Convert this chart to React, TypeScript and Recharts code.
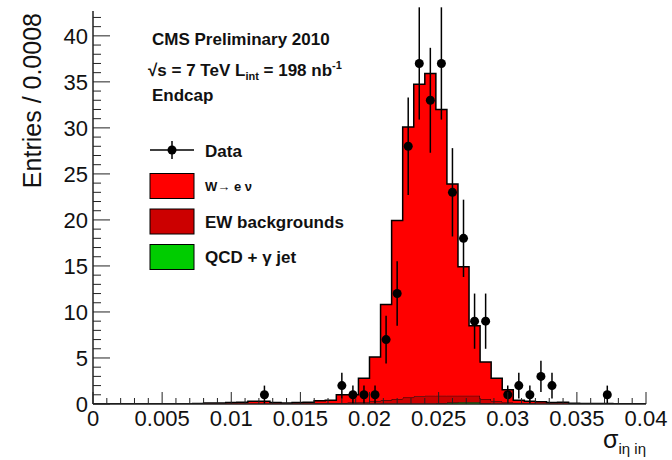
import React from "react";
import { ComposedChart, Area, Scatter, ErrorBar, XAxis, YAxis, Legend } from "recharts";

const FONT = "'Liberation Sans', Arial, Helvetica, sans-serif";
const BIN_WIDTH = 0.0008;

// stacked MC histograms, 50 bins of 0.0008 from 0 to 0.04
const wEnu = [
  0, 0, 0, 0, 0, 0, 0, 0, 0, 0.05,
  0.1, 0.1, 0.15, 0.2, 0.3, 0.3, 0.15, 0.1, 0.15, 0.2,
  0.3, 0.32, 0.9, 0.85, 2.6, 4.8, 10.4, 19.4, 29.4, 33.9,
  35.0, 31.1, 23.0, 14.0, 7.6, 4.0, 2.5, 1.4, 0.3, 0.25,
  0.25, 0.15, 0.2, 0.08, 0.06, 0.05, 0.05, 0.04, 0.03, 0.03,
];
const ewBackgrounds = [
  0, 0, 0, 0, 0, 0, 0, 0, 0, 0,
  0, 0, 0, 0, 0, 0, 0, 0, 0, 0,
  0.05, 0.08, 0.1, 0.15, 0.2, 0.3, 0.4, 0.55, 0.7, 0.85,
  0.9, 0.85, 0.75, 0.7, 0.7, 0.5, 0.3, 0.15, 0.1, 0.05,
  0, 0, 0, 0, 0, 0, 0, 0, 0, 0,
];
const qcdGammaJet = [
  0, 0, 0, 0, 0, 0, 0, 0, 0, 0,
  0, 0, 0, 0, 0, 0, 0, 0, 0, 0,
  0, 0, 0, 0, 0, 0, 0, 0, 0, 0,
  0, 0.05, 0.15, 0.2, 0.2, 0.05, 0, 0, 0, 0,
  0, 0, 0, 0, 0, 0, 0, 0, 0, 0,
];

// data points (bin centres), counts and error bars
const dataX = [
  0.0124, 0.018, 0.0188, 0.0196, 0.0204, 0.0212, 0.022, 0.0228, 0.0236, 0.0244,
  0.0252, 0.026, 0.0268, 0.0276, 0.0284, 0.03, 0.0308, 0.0316, 0.0324, 0.0332, 0.0372,
];
const dataCounts = [1, 2, 1, 1, 1, 7, 12, 28, 37, 33, 37, 23, 18, 9, 9, 1, 2, 1, 3, 2, 1];
const dataErrors = [1, 1.4, 1, 1, 1, 2.6, 3.5, 5.3, 6.1, 5.7, 6.1, 4.8, 4.2, 3, 3, 1, 1.4, 1, 1.7, 1.4, 1];

const xMajorTicks = [0, 0.005, 0.01, 0.015, 0.02, 0.025, 0.03, 0.035, 0.04];
const xTickLabels = ["0", "0.005", "0.01", "0.015", "0.02", "0.025", "0.03", "0.035", "0.04"];
const yMajorTicks = [0, 5, 10, 15, 20, 25, 30, 35, 40];

const xTicks = Array.from({ length: 41 }, (_, i) => i / 1000);
const yTicks = Array.from({ length: 43 }, (_, i) => i);

const W_COLOR = "#ff0000";
const EW_COLOR = "#cc0000";
const QCD_COLOR = "#00cc00";
const LINE = "#222";

const histRows = wEnu.map((w, i) => ({
  x: i * BIN_WIDTH,
  w,
  ew: ewBackgrounds[i],
  qcd: qcdGammaJet[i],
}));
histRows.push({ ...histRows[histRows.length - 1], x: wEnu.length * BIN_WIDTH });

const dataRows = dataX.map((x, i) => ({ x, y: dataCounts[i], err: dataErrors[i] }));

const xMajorIndex = (v: number) => xMajorTicks.findIndex((t) => Math.abs(t - v) < 1e-7);

const BottomTick = ({ x, y, payload }: any) => {
  const idx = xMajorIndex(payload.value);
  return (
    <g>
      <line x1={x} y1={y} x2={x} y2={y - (idx >= 0 ? 12 : 6)} stroke={LINE} />
      {idx >= 0 && (
        <text x={x} y={y + 22} textAnchor="middle" fontSize={22} fontFamily={FONT} fill="#111">
          {xTickLabels[idx]}
        </text>
      )}
    </g>
  );
};

const TopTick = ({ x, y, payload }: any) => (
  <line x1={x} y1={y} x2={x} y2={y + (xMajorIndex(payload.value) >= 0 ? 12 : 6)} stroke={LINE} />
);

const LeftTick = ({ x, y, payload }: any) => {
  const major = yMajorTicks.includes(payload.value);
  return (
    <g>
      <line x1={x} y1={y} x2={x + (major ? 17 : 8)} y2={y} stroke={LINE} />
      {major && (
        <text x={x - 5} y={y + 8} textAnchor="end" fontSize={22} fontFamily={FONT} fill="#111">
          {payload.value}
        </text>
      )}
    </g>
  );
};

const RightTick = ({ x, y, payload }: any) => (
  <line x1={x} y1={y} x2={x - (yMajorTicks.includes(payload.value) ? 17 : 8)} y2={y} stroke={LINE} />
);

const XTitle = ({ viewBox }: any) => (
  <text
    x={viewBox.x + viewBox.width}
    y={viewBox.y + 44}
    textAnchor="end"
    fontFamily={FONT}
    fill="#111"
    fontSize={25}
  >
    σ
    <tspan fontSize={15} dy={6}>
      iη iη
    </tspan>
  </text>
);

const YTitle = ({ viewBox }: any) => (
  <text
    x={viewBox.x + 41}
    y={viewBox.y + 2}
    transform={`rotate(-90, ${viewBox.x + 41}, ${viewBox.y + 2})`}
    textAnchor="end"
    fontFamily={FONT}
    fontSize={25}
    fill="#111"
  >
    Entries / 0.0008
  </text>
);

const boxes = [
  { name: "W→ e ν", color: W_COLOR, size: 13 },
  { name: "EW backgrounds", color: EW_COLOR, size: 17 },
  { name: "QCD + γ jet", color: QCD_COLOR, size: 17 },
];

const LegendPanel = () => (
  <svg width={672} height={460} style={{ position: "absolute", left: 0, top: 0 }}>
    <g fontFamily={FONT} fontWeight="bold" fill="#111" fontSize={17}>
      <text x={152} y={45}>CMS Preliminary 2010</text>
      <text x={148} y={76}>
        √s = 7 TeV L
        <tspan fontSize={11} dy={4}>int</tspan>
        <tspan dy={-4}> = 198 nb</tspan>
        <tspan fontSize={11} dy={-7}>-1</tspan>
      </text>
      <text x={152} y={101}>Endcap</text>

      <line x1={150} x2={194} y1={150} y2={150} stroke="#000" strokeWidth={1.5} />
      <line x1={172} x2={172} y1={141} y2={159} stroke="#000" strokeWidth={1.5} />
      <circle cx={172} cy={150} r={4.5} fill="#000" />
      <text x={205} y={157}>Data</text>

      {boxes.map((b, i) => {
        const cy = 186 + i * 35.5;
        return (
          <g key={b.name}>
            <rect x={150} y={cy - 12.5} width={44} height={25} fill={b.color} stroke="#000" />
            <text x={205} y={cy + (b.size === 17 ? 6 : 5)} fontSize={b.size}>
              {b.name}
            </text>
          </g>
        );
      })}
    </g>
  </svg>
);

export default function App() {
  return (
    <div style={{ position: "absolute", left: 0, top: 0, width: 672, height: 460, background: "#fff" }}>
      <ComposedChart
        width={672}
        height={460}
        data={histRows}
        margin={{ top: 11, right: 26, bottom: 0, left: 0 }}
      >
        <XAxis
          dataKey="x"
          type="number"
          domain={[0, 0.04]}
          allowDataOverflow
          ticks={xTicks}
          interval={0}
          tickSize={0}
          tickMargin={0}
          tick={<BottomTick />}
          tickLine={false}
          height={56}
          axisLine={{ stroke: LINE, strokeWidth: 1.5 }}
          label={XTitle}
        />
        <XAxis
          xAxisId="top"
          orientation="top"
          type="number"
          domain={[0, 0.04]}
          allowDataOverflow
          ticks={xTicks}
          interval={0}
          tickSize={0}
          tickMargin={0}
          tick={<TopTick />}
          tickLine={false}
          height={0}
          axisLine={{ stroke: LINE, strokeWidth: 1.5 }}
        />
        <YAxis
          type="number"
          domain={[0, 42.7]}
          allowDataOverflow
          ticks={yTicks}
          interval={0}
          tickSize={0}
          tickMargin={0}
          tick={<LeftTick />}
          tickLine={false}
          width={93}
          axisLine={{ stroke: LINE, strokeWidth: 1.5 }}
          label={YTitle}
        />
        <YAxis
          yAxisId="right"
          orientation="right"
          type="number"
          domain={[0, 42.7]}
          allowDataOverflow
          ticks={yTicks}
          interval={0}
          tickSize={0}
          tickMargin={0}
          tick={<RightTick />}
          tickLine={false}
          width={0}
          axisLine={{ stroke: LINE, strokeWidth: 1.5 }}
        />
        <Area
          dataKey="qcd"
          name="QCD + γ jet"
          stackId="mc"
          type="stepAfter"
          fill={QCD_COLOR}
          fillOpacity={1}
          stroke="#000"
          strokeWidth={1}
          isAnimationActive={false}
        />
        <Area
          dataKey="ew"
          name="EW backgrounds"
          stackId="mc"
          type="stepAfter"
          fill={EW_COLOR}
          fillOpacity={1}
          stroke="#000"
          strokeWidth={1}
          isAnimationActive={false}
        />
        <Area
          dataKey="w"
          name="W→ e ν"
          stackId="mc"
          type="stepAfter"
          fill={W_COLOR}
          fillOpacity={1}
          stroke="#000"
          strokeWidth={1.5}
          isAnimationActive={false}
        />
        <Scatter
          data={dataRows}
          dataKey="y"
          name="Data"
          isAnimationActive={false}
          shape={(p: any) => <circle cx={p.cx} cy={p.cy} r={4.5} fill="#000" />}
        >
          <ErrorBar dataKey="err" direction="y" width={0} stroke="#000" strokeWidth={1.5} isAnimationActive={false} />
        </Scatter>
        <Legend
          layout="vertical"
          align="center"
          verticalAlign="middle"
          wrapperStyle={{ position: "absolute", left: 0, top: 0, width: 672, height: 460, pointerEvents: "none" }}
          content={<LegendPanel />}
        />
      </ComposedChart>
    </div>
  );
}
